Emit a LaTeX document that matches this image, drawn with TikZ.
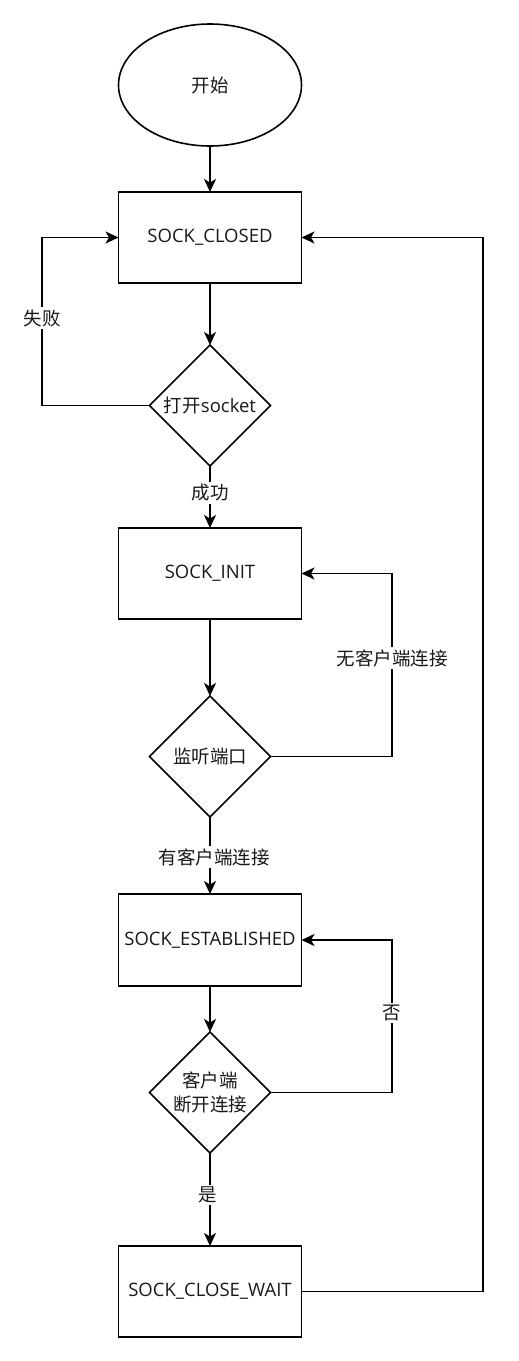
\documentclass[tikz,border=0pt]{standalone}
\usepackage{fontspec}
\setmainfont{Open Sans}
\newfontfamily\cjk{Noto Sans CJK SC}
\usetikzlibrary{shapes.geometric,arrows.meta}
\begin{document}
\begin{tikzpicture}[x=1pt,y=-1pt,
  every node/.style={font=\fontsize{18.5}{24}\selectfont, text=black!90},
  base/.style={draw, line width=1.6pt, inner sep=0pt, outer sep=0pt},
  startbox/.style={base, ellipse, minimum width=183pt, minimum height=122pt},
  statebox/.style={base, rectangle, minimum width=183pt, minimum height=91pt},
  decbox/.style={base, diamond, minimum width=121pt, minimum height=121pt, align=center},
  lbl/.style={fill=white, inner sep=2pt},
  arr/.style={line width=1.6pt, -{Stealth[length=13pt,width=12pt,inset=3.5pt]}}
]
\useasboundingbox (0,0) rectangle (519,1361);
\node[startbox] (start) at (210,85) {\cjk 开始};
\node[statebox] (closed) at (210,237.5) {SOCK\_CLOSED};
\node[decbox] (d1) at (210,405.5) {{\cjk 打开}socket};
\node[statebox] (init) at (210,573.5) {SOCK\_INIT};
\node[decbox] (d2) at (210,756.5) {\cjk 监听端口};
\node[statebox, minimum height=92pt] (est) at (210,940) {SOCK\_ESTABLISHED};
\node[decbox] (d3) at (210,1092.5) {\cjk 客户端\\\cjk 断开连接};
\node[statebox] (wait) at (210,1291.5) {SOCK\_CLOSE\_WAIT};

\coordinate (lx) at (42,0);
\coordinate (mx) at (392,0);
\coordinate (rx) at (483,0);

\draw[arr] (start) -- (closed);
\draw[arr] (closed) -- (d1);
\draw[arr] (d1.west) -- (d1.west -| lx) -- (closed.west -| lx) -- (closed.west);
\node[lbl] (lfail) at (42,318) {\cjk 失败};

\draw[arr] (d1) -- (init);
\node[lbl] (lok) at (210,493) {\cjk 成功};

\draw[arr] (init) -- (d2);
\draw[arr] (d2.east) -- (d2.east -| mx) -- (init.east -| mx) -- (init.east);
\node[lbl] (lnone) at (392,658) {\cjk 无客户端连接};

\draw[arr] (d2) -- (est);
\node[lbl] (lhas) at (214,857) {\cjk 有客户端连接};

\draw[arr] (est) -- (d3);
\draw[arr] (d3.east) -- (d3.east -| mx) -- (est.east -| mx) -- (est.east);
\node[lbl] (lno) at (392,1013) {\cjk 否};

\draw[arr] (d3) -- (wait);
\node[lbl] (lyes) at (208,1195) {\cjk 是};

\draw[arr] (wait.east) -- (wait.east -| rx) -- (closed.east -| rx) -- (closed.east);
\end{tikzpicture}
\end{document}
